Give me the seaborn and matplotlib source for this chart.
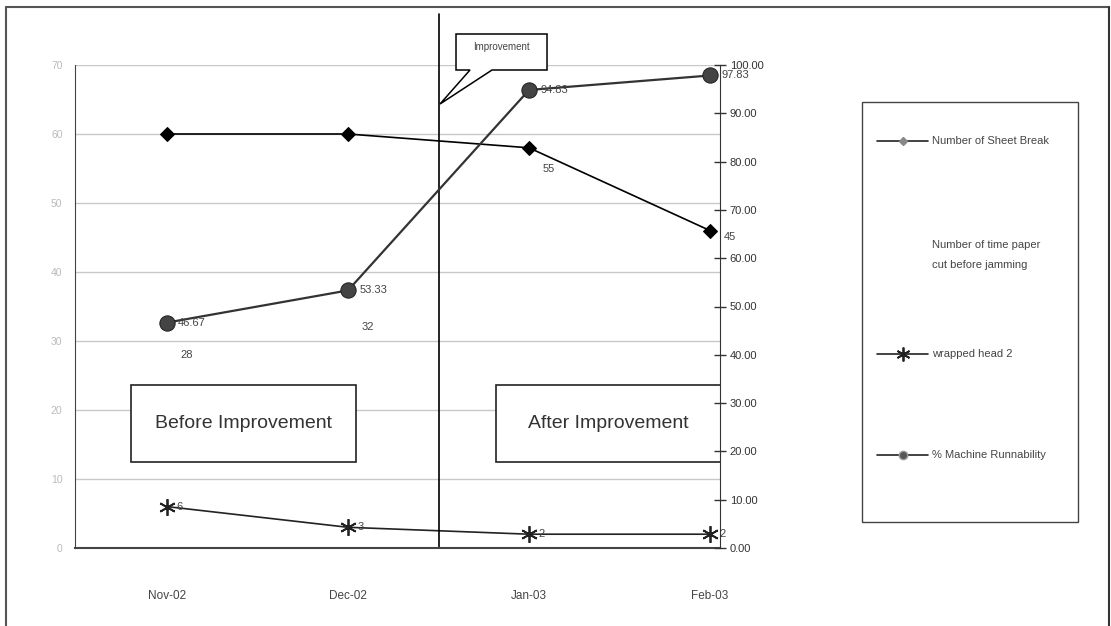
import matplotlib
matplotlib.use("Agg")
import matplotlib.pyplot as plt
from matplotlib.lines import Line2D
from matplotlib.patches import Polygon, Rectangle
import numpy as np
import pandas as pd
import seaborn as sns

months = ["Nov-02", "Dec-02", "Jan-03", "Feb-03"]
sheet_break = [60, 60, 58, 46]
paper_cut = [28, 32, 55, 45]
wrapped_head = [6, 3, 2, 2]
runnability = [46.67, 53.33, 94.83, 97.83]

sns.set_style("white")
plt.rcParams["font.family"] = ["Liberation Sans", "DejaVu Sans"]

df = pd.DataFrame({
    "x": np.arange(len(months)),
    "sheet": sheet_break,
    "cut": paper_cut,
    "wrap": wrapped_head,
    "run": runnability,
})

W, H = 1111, 626
fig = plt.figure(figsize=(W / 100, H / 100), dpi=100)
ax = fig.add_axes([75 / W, 78 / H, 645 / W, 483 / H])
ax2 = ax.twinx()

# left axis series
sns.lineplot(data=df, x="x", y="sheet", ax=ax, color="black", lw=1.2,
             marker="D", markersize=7, markeredgecolor="black")
sns.lineplot(data=df, x="x", y="wrap", ax=ax, color="#222222", lw=1.2,
             marker=(6, 2, 0), markersize=12, markeredgewidth=1.3,
             markeredgecolor="#222222")
# right axis series
sns.lineplot(data=df, x="x", y="run", ax=ax2, color="#333333", lw=1.6,
             marker="o", markersize=11, markerfacecolor="#444444",
             markeredgecolor="#222222")

ax.set_xlim(-0.508, 3.055)
ax.set_ylim(0, 70)
ax2.set_ylim(0, 100)
ax.set_xticks(df["x"])
ax.set_xticklabels(months, fontsize=8.5, color="#444444")
ax.set_yticks(np.arange(0, 71, 10))
ax.set_yticklabels([str(v) for v in range(0, 71, 10)], fontsize=7.5,
                   color="#bbbbbb")
ax2.set_yticks(np.arange(0, 101, 10))
ax2.set_yticklabels(["%.2f" % v for v in range(0, 101, 10)], fontsize=8,
                    color="#333333")
ax.set_xlabel("")
ax.set_ylabel("")
ax2.set_ylabel("")
ax.tick_params(axis="x", length=0, pad=30)
ax.tick_params(axis="y", length=0, pad=9)
ax2.tick_params(axis="y", direction="inout", length=8, width=1,
                color="#333333", pad=3)

ax.grid(axis="y", color="#c8c8c8", lw=1)
ax.set_axisbelow(True)
for a in (ax, ax2):
    a.spines["top"].set_visible(False)
ax2.spines["left"].set_visible(False)
ax.spines["right"].set_visible(False)
ax.spines["left"].set_color("#444444")
ax.spines["bottom"].set_color("#444444")
ax.spines["bottom"].set_linewidth(1.5)
ax2.spines["right"].set_color("#333333")
ax2.spines["bottom"].set_visible(False)

# data labels
for xi, v in zip(df["x"], paper_cut):
    ax.annotate(str(v), (xi, v), xytext=(14, 0), textcoords="offset points",
                ha="center", va="center", fontsize=8, color="#444444")
for xi, v in zip(df["x"], wrapped_head):
    ax.annotate(str(v), (xi, v), xytext=(7, 0), textcoords="offset points",
                ha="left", va="center", fontsize=8, color="#444444")
for xi, v in zip(df["x"], runnability):
    ax2.annotate("%.2f" % v, (xi, v), xytext=(8, 0), textcoords="offset points",
                 ha="left", va="center", fontsize=8, color="#444444")

# improvement divider
ax.add_line(Line2D([1.5, 1.5], [0, 1.106], transform=ax.get_xaxis_transform(),
                   color="black", lw=1.2, clip_on=False))


def px(x, y):
    return ((x - 167) / 181, (548 - y) / 6.9)


# callout "Improvement"
call = [px(456, 34), px(547, 34), px(547, 70), px(492, 70), px(440, 104),
        px(470, 70), px(456, 70)]
ax.add_patch(Polygon(call, closed=True, facecolor="white", edgecolor="black",
                     lw=1.1, clip_on=False, zorder=5))
ax.text(*px(501, 47), "Improvement", ha="center", va="center", fontsize=7,
        color="#444444", zorder=6)

# before / after boxes
for label, x0 in [("Before Improvement", 131), ("After Improvement", 496)]:
    bx0, by0 = px(x0, 462)
    bx1, by1 = px(x0 + 225, 385)
    ax.add_patch(Rectangle((bx0, by0), bx1 - bx0, by1 - by0, facecolor="white",
                           edgecolor="#222222", lw=1.2, zorder=4))
    ax.text((bx0 + bx1) / 2, (by0 + by1) / 2, label, ha="center", va="center",
            fontsize=14, color="#333333", zorder=5)


# legend, drawn by hand (figure pixel positions)
def fp(x, y):
    return (x / W, 1 - y / H)


fig.add_artist(Rectangle(fp(862, 522), 216 / W, 420 / H, transform=fig.transFigure,
                         facecolor="white", edgecolor="#444444", lw=1))
legend_rows = [
    ("Number of Sheet Break", 141, dict(marker="D", markersize=4,
                                        markerfacecolor="#888888",
                                        markeredgecolor="#888888")),
    ("wrapped head 2", 354, dict(marker=(6, 2, 0), markersize=10,
                                 markeredgewidth=1.3,
                                 markeredgecolor="#222222")),
    ("% Machine Runnability", 455, dict(marker="o", markersize=6,
                                        markerfacecolor="#555555",
                                        markeredgecolor="#999999")),
]
for text, y, mk in legend_rows:
    (x0, yy), (x1, _) = fp(877, y), fp(928, y)
    fig.add_artist(Line2D([x0, x1], [yy, yy], color="#222222", lw=1.2))
    fig.add_artist(Line2D([(x0 + x1) / 2], [yy], color="#222222", lw=0, **mk))
    fig.text(*fp(932, y), text, ha="left", va="center", fontsize=8,
             color="#444444")
fig.text(*fp(932, 245), "Number of time paper", ha="left", va="center",
         fontsize=8, color="#444444")
fig.text(*fp(932, 265), "cut before jamming", ha="left", va="center",
         fontsize=8, color="#444444")

# outer frame
fig.add_artist(Line2D([6 / W, 6 / W], [1 - 7 / H, 0], color="#555555", lw=1.5))
fig.add_artist(Line2D([6 / W, 1109 / W], [1 - 7 / H, 1 - 7 / H],
                      color="#555555", lw=1.5))
fig.add_artist(Line2D([1109 / W, 1109 / W], [1 - 7 / H, 0], color="#333333",
                      lw=1.5))

fig.savefig("out.png", dpi=100)
